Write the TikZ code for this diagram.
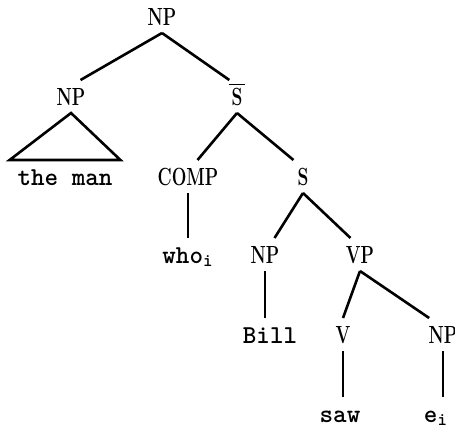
\documentclass[tikz,border=0pt]{standalone}
\usepackage{fontspec}
\usepackage{graphicx}
\newcommand{\catlabel}[1]{\scalebox{.7}[1]{#1}}
\begin{document}
\begin{tikzpicture}
          [x=.5pt,y=-.5pt,line width=1.3pt,
           every node/.style={inner sep=0pt, outer sep=4pt, text height=8.5pt, text depth=0pt},
           catnode/.style={font=\fontsize{12.4}{15}\selectfont\bfseries},
           wordnode/.style={font=\fontsize{12.9}{15}\selectfont\ttfamily\bfseries}]
        \useasboundingbox (0,0) rectangle (455,430);

        \node[catnode] (np0) at (162,16.5) {\catlabel{NP}};

        \node[catnode] (np1) at (71,96.5) {\catlabel{NP}};
        \node[catnode] (sbar) at (237,96.5) {\catlabel{$\overline{\mbox{\,\bfseries S\,}}$}};

        \node[wordnode] (theman) at (65,176.5) {the man};
        \node[catnode] (comp) at (188,176.5) {\catlabel{COMP}};
        \node[catnode] (s) at (303,176.5) {\catlabel{S}};

        \node[wordnode] (who) at (188,254.5) {who\textsubscript{i}};
        \node[catnode] (np2) at (265,254.5) {\catlabel{NP}};
        \node[catnode] (vp) at (360,254.5) {\catlabel{VP}};

        \node[wordnode] (bill) at (270,334.5) {Bill};
        \node[catnode] (v) at (343,334.5) {\catlabel{V}};
        \node[catnode] (np3) at (443,334.5) {\catlabel{NP}};

        \node[wordnode] (saw) at (340,413.5) {saw};
        \node[wordnode] (e) at (436,413.5) {e\textsubscript{i}};

        \foreach \from/\to in {np0.south/np1.60, np0.south/sbar.115, sbar.south/comp.60,
                               sbar.south/s.120, s.south/np2.60, s.south/vp.120,
                               vp.south/v.north, vp.south/np3.130}
          \draw (\from) -- (\to);

        \foreach \up/\down in {comp/who, np2/bill, v/saw, np3/e}
          \draw (\up.south) -- (\up.south |- \down.north);

        \draw (np1.south) -- (theman.north west) -- (theman.north east) -- cycle;
      \end{tikzpicture}
\end{document}
